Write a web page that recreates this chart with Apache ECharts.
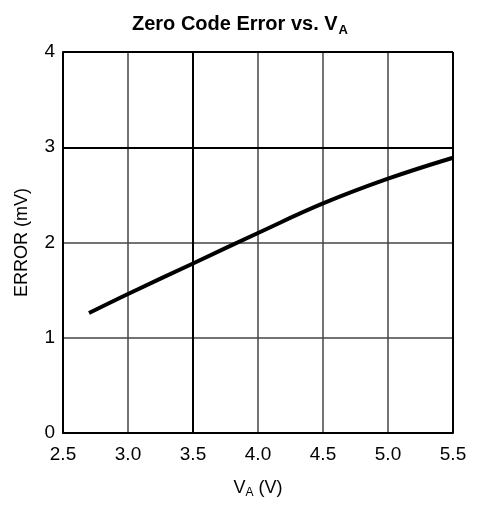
<!DOCTYPE html>
<html><head><meta charset="utf-8">
<script src="https://cdn.jsdelivr.net/npm/echarts@6/dist/echarts.min.js"></script>
<style>html,body{margin:0;padding:0;background:#fff}#c{width:480px;height:506px}</style>
</head><body><div id="c"></div>
<script>
var voltage = [2.7, 3.0, 3.5, 4.0, 4.5, 5.0, 5.5];
var errorMv = [1.26, 1.46, 1.78, 2.10, 2.41, 2.67, 2.89];
var xTicks = [2.5, 3.0, 3.5, 4.0, 4.5, 5.0, 5.5];
var yTicks = [0, 1, 2, 3, 4];

var font = 'Liberation Sans, Arial, Helvetica, sans-serif';
var chart = echarts.init(document.getElementById('c'), null, {renderer: 'canvas'});
chart.setOption({
  animation: false,
  title: {
    text: '{t|Zero Code Error vs. V}{s|A}',
    left: 'center', top: 7,
    textStyle: {
      rich: {
        t: {fontFamily: font, fontWeight: 'bold', fontSize: 20, color: '#000'},
        s: {fontFamily: font, fontWeight: 'bold', fontSize: 13, color: '#000', verticalAlign: 'bottom', padding: [12, 0, 0, 1]}
      }
    }
  },
  grid: {left: 63, right: 27, top: 52, bottom: 73, containLabel: false, outerBoundsMode: 'none'},
  xAxis: {
    type: 'value', min: 2.5, max: 5.5, interval: 0.5,
    name: '{t|V}{s|A}{t| (V)}', nameLocation: 'middle', nameGap: 44,
    nameTextStyle: {rich: {
      t: {fontFamily: font, fontSize: 18, color: '#000'},
      s: {fontFamily: font, fontSize: 12, color: '#000', verticalAlign: 'bottom', padding: [10, 0, 0, 0]}
    }},
    axisLine: {show: true, lineStyle: {color: '#000', width: 2}},
    axisTick: {show: false},
    axisLabel: {fontFamily: font, fontSize: 19, color: '#000', margin: 12,
      formatter: function (v) { return xTicks.indexOf(+v.toFixed(1)) >= 0 ? v.toFixed(1) : ''; }},
    splitLine: {show: true, lineStyle: {color: '#444', width: 1.5}}
  },
  yAxis: {
    type: 'value', min: 0, max: 4, interval: 1,
    name: 'ERROR (mV)', nameLocation: 'middle', nameGap: 32,
    nameTextStyle: {fontFamily: font, fontSize: 18, color: '#000'},
    axisLine: {show: true, lineStyle: {color: '#000', width: 2}},
    axisTick: {show: false},
    axisLabel: {fontFamily: font, fontSize: 19, color: '#000', margin: 8,
      formatter: function (v) { return yTicks.indexOf(v) >= 0 ? String(v) : ''; }},
    splitLine: {show: true, lineStyle: {color: '#444', width: 1.5}}
  },
  series: [{
    type: 'line',
    data: voltage.map(function (v, i) { return [v, errorMv[i]]; }),
    smooth: 0.4,
    showSymbol: false,
    lineStyle: {color: '#000', width: 4},
    markLine: {
      silent: true, symbol: 'none', label: {show: false},
      lineStyle: {color: '#000', width: 2, type: 'solid'},
      data: [{xAxis: 3.5}, {yAxis: 3}, {xAxis: 5.5}, {yAxis: 4}]
    },
    z: 5
  }]
});
</script></body></html>
